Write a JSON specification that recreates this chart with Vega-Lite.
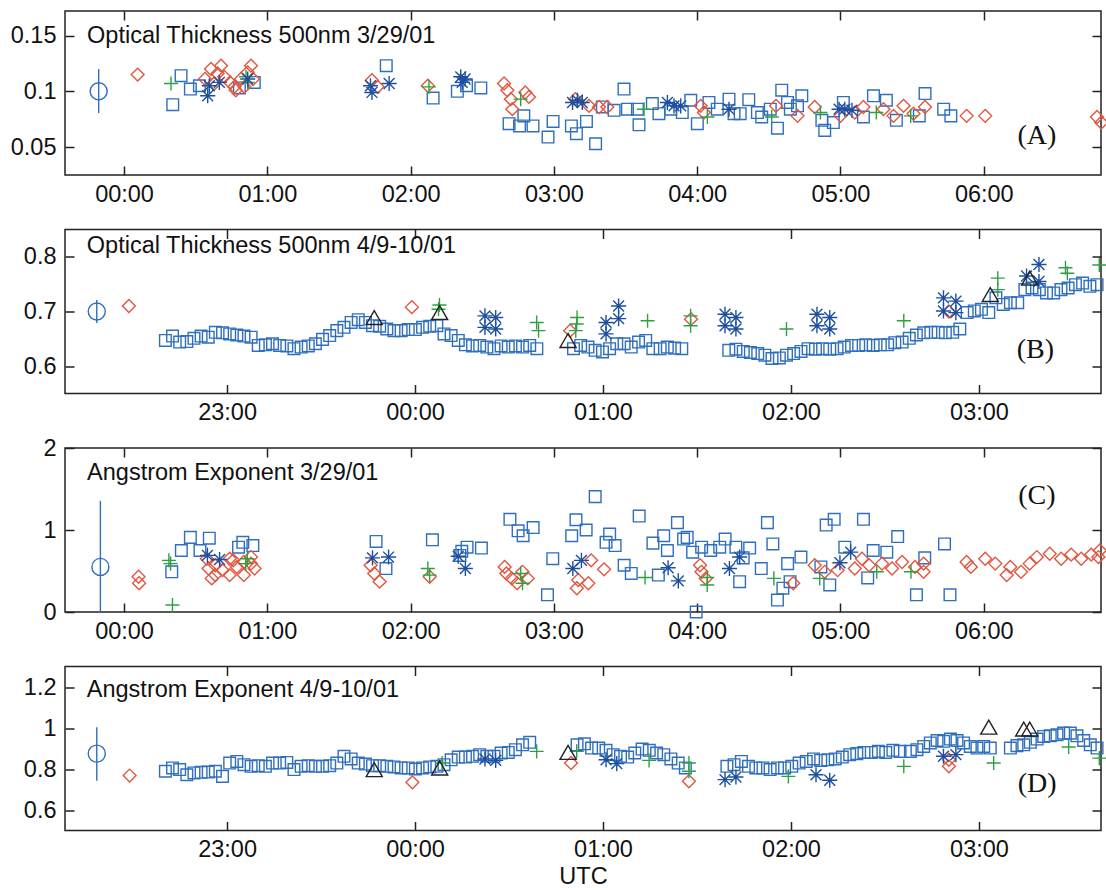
{
"$schema":"https://vega.github.io/schema/vega-lite/v6.json",
"padding":{"left":9,"top":9,"right":6,"bottom":0},
"background":"white",
"config":{
 "view":{"stroke":"#222","strokeWidth":1.5},
 "font":"Liberation Sans",
 "axis":{"domain":false,"grid":false,"tickColor":"#222","tickSize":-9,"tickWidth":1.5,"labelFontSize":23.5,"labelColor":"#111","labelFont":"Liberation Sans","titleFont":"Liberation Sans","titleFontSize":23.5,"titleFontWeight":"normal","titleColor":"#111"},
 "axisX":{"labelPadding":16,"titlePadding":3},
 "axisY":{"labelPadding":18}
},
"datasets":{
"A":[
{"t":0.340,"v":0.088,"s":"sq"},{"t":0.398,"v":0.114,"s":"sq"},{"t":0.463,"v":0.102,"s":"sq"},{"t":0.526,"v":0.105,"s":"sq"},{"t":0.805,"v":0.103,"s":"sq"},{"t":0.909,"v":0.108,"s":"sq"},{"t":1.83,"v":0.123,"s":"sq"},{"t":2.157,"v":0.094,"s":"sq"},{"t":2.326,"v":0.100,"s":"sq"},{"t":2.39,"v":0.105,"s":"sq"},{"t":2.49,"v":0.103,"s":"sq"},{"t":2.687,"v":0.071,"s":"sq"},{"t":2.76,"v":0.069,"s":"sq"},{"t":2.79,"v":0.078,"s":"sq"},{"t":2.854,"v":0.069,"s":"sq"},{"t":2.959,"v":0.059,"s":"sq"},{"t":2.994,"v":0.073,"s":"sq"},{"t":3.122,"v":0.069,"s":"sq"},{"t":3.157,"v":0.062,"s":"sq"},{"t":3.227,"v":0.073,"s":"sq"},{"t":3.291,"v":0.053,"s":"sq"},{"t":3.489,"v":0.102,"s":"sq"},{"t":3.338,"v":0.086,"s":"sq"},{"t":3.42,"v":0.083,"s":"sq"},{"t":3.513,"v":0.084,"s":"sq"},{"t":3.583,"v":0.084,"s":"sq"},{"t":3.594,"v":0.070,"s":"sq"},{"t":3.687,"v":0.089,"s":"sq"},{"t":3.733,"v":0.080,"s":"sq"},{"t":3.815,"v":0.084,"s":"sq"},{"t":3.896,"v":0.081,"s":"sq"},{"t":3.955,"v":0.092,"s":"sq"},{"t":4.001,"v":0.071,"s":"sq"},{"t":4.082,"v":0.090,"s":"sq"},{"t":4.14,"v":0.084,"s":"sq"},{"t":4.222,"v":0.093,"s":"sq"},{"t":4.257,"v":0.080,"s":"sq"},{"t":4.30,"v":0.080,"s":"sq"},{"t":4.36,"v":0.0925,"s":"sq"},{"t":4.42,"v":0.081,"s":"sq"},{"t":4.45,"v":0.077,"s":"sq"},{"t":4.51,"v":0.084,"s":"sq"},{"t":4.56,"v":0.067,"s":"sq"},{"t":4.59,"v":0.101,"s":"sq"},{"t":4.63,"v":0.090,"s":"sq"},{"t":4.65,"v":0.084,"s":"sq"},{"t":4.70,"v":0.087,"s":"sq"},{"t":4.73,"v":0.096,"s":"sq"},{"t":4.87,"v":0.074,"s":"sq"},{"t":4.89,"v":0.065,"s":"sq"},{"t":4.95,"v":0.072,"s":"sq"},{"t":5.02,"v":0.090,"s":"sq"},{"t":5.16,"v":0.077,"s":"sq"},{"t":5.23,"v":0.096,"s":"sq"},{"t":5.32,"v":0.092,"s":"sq"},{"t":5.39,"v":0.074,"s":"sq"},{"t":5.55,"v":0.078,"s":"sq"},{"t":5.59,"v":0.098,"s":"sq"},{"t":5.72,"v":0.084,"s":"sq"},{"t":5.77,"v":0.078,"s":"sq"},
{"t":0.095,"v":0.115,"s":"dm"},{"t":0.565,"v":0.111,"s":"dm"},{"t":0.607,"v":0.120,"s":"dm"},{"t":0.653,"v":0.116,"s":"dm"},{"t":0.677,"v":0.123,"s":"dm"},{"t":0.63,"v":0.107,"s":"dm"},{"t":0.70,"v":0.113,"s":"dm"},{"t":0.74,"v":0.108,"s":"dm"},{"t":0.77,"v":0.104,"s":"dm"},{"t":0.78,"v":0.101,"s":"dm"},{"t":0.816,"v":0.111,"s":"dm"},{"t":0.863,"v":0.117,"s":"dm"},{"t":0.886,"v":0.123,"s":"dm"},{"t":0.90,"v":0.111,"s":"dm"},{"t":0.84,"v":0.104,"s":"dm"},{"t":1.73,"v":0.110,"s":"dm"},{"t":1.77,"v":0.104,"s":"dm"},{"t":2.12,"v":0.105,"s":"dm"},{"t":2.652,"v":0.107,"s":"dm"},{"t":2.675,"v":0.101,"s":"dm"},{"t":2.70,"v":0.093,"s":"dm"},{"t":2.71,"v":0.084,"s":"dm"},{"t":2.80,"v":0.099,"s":"dm"},{"t":2.826,"v":0.095,"s":"dm"},{"t":3.15,"v":0.093,"s":"dm"},{"t":3.245,"v":0.087,"s":"dm"},{"t":3.315,"v":0.086,"s":"dm"},{"t":3.373,"v":0.086,"s":"dm"},{"t":4.024,"v":0.087,"s":"dm"},{"t":4.047,"v":0.081,"s":"dm"},{"t":4.55,"v":0.087,"s":"dm"},{"t":4.70,"v":0.078,"s":"dm"},{"t":4.82,"v":0.086,"s":"dm"},{"t":5.00,"v":0.078,"s":"dm"},{"t":5.10,"v":0.081,"s":"dm"},{"t":5.16,"v":0.086,"s":"dm"},{"t":5.30,"v":0.084,"s":"dm"},{"t":5.37,"v":0.078,"s":"dm"},{"t":5.44,"v":0.087,"s":"dm"},{"t":5.51,"v":0.080,"s":"dm"},{"t":5.59,"v":0.086,"s":"dm"},{"t":5.88,"v":0.078,"s":"dm"},{"t":6.01,"v":0.078,"s":"dm"},{"t":6.79,"v":0.077,"s":"dm"},{"t":6.82,"v":0.072,"s":"dm"},
{"t":0.328,"v":0.107,"s":"pl"},{"t":0.851,"v":0.113,"s":"pl"},{"t":0.863,"v":0.108,"s":"pl"},{"t":2.128,"v":0.104,"s":"pl"},{"t":2.768,"v":0.093,"s":"pl"},{"t":3.629,"v":0.084,"s":"pl"},{"t":4.071,"v":0.077,"s":"pl"},{"t":4.52,"v":0.077,"s":"pl"},{"t":4.86,"v":0.081,"s":"pl"},{"t":5.25,"v":0.081,"s":"pl"},{"t":5.49,"v":0.078,"s":"pl"},
{"t":0.584,"v":0.096,"s":"as"},{"t":0.595,"v":0.105,"s":"as"},{"t":0.665,"v":0.108,"s":"as"},{"t":0.863,"v":0.111,"s":"as"},{"t":1.72,"v":0.105,"s":"as"},{"t":1.73,"v":0.099,"s":"as"},{"t":1.85,"v":0.107,"s":"as"},{"t":2.35,"v":0.113,"s":"as"},{"t":2.36,"v":0.108,"s":"as"},{"t":2.38,"v":0.111,"s":"as"},{"t":3.13,"v":0.090,"s":"as"},{"t":3.164,"v":0.092,"s":"as"},{"t":3.198,"v":0.090,"s":"as"},{"t":3.792,"v":0.090,"s":"as"},{"t":3.838,"v":0.087,"s":"as"},{"t":3.885,"v":0.087,"s":"as"},{"t":4.222,"v":0.084,"s":"as"},{"t":4.99,"v":0.084,"s":"as"},{"t":5.03,"v":0.084,"s":"as"},{"t":5.08,"v":0.083,"s":"as"},
{"t":-0.177,"v":0.1,"lo":0.0805,"hi":0.12,"s":"err"}
],
"B":[
{"t":-1.328,"v":0.647,"s":"sq"},{"t":-1.290,"v":0.655,"s":"sq"},{"t":-1.252,"v":0.644,"s":"sq"},{"t":-1.214,"v":0.645,"s":"sq"},{"t":-1.176,"v":0.651,"s":"sq"},{"t":-1.138,"v":0.655,"s":"sq"},{"t":-1.100,"v":0.653,"s":"sq"},{"t":-1.062,"v":0.662,"s":"sq"},{"t":-1.024,"v":0.661,"s":"sq"},{"t":-0.986,"v":0.659,"s":"sq"},{"t":-0.948,"v":0.657,"s":"sq"},{"t":-0.910,"v":0.655,"s":"sq"},{"t":-0.872,"v":0.653,"s":"sq"},{"t":-0.834,"v":0.638,"s":"sq"},{"t":-0.796,"v":0.639,"s":"sq"},{"t":-0.758,"v":0.641,"s":"sq"},{"t":-0.720,"v":0.638,"s":"sq"},{"t":-0.682,"v":0.637,"s":"sq"},{"t":-0.644,"v":0.632,"s":"sq"},{"t":-0.606,"v":0.635,"s":"sq"},{"t":-0.568,"v":0.637,"s":"sq"},{"t":-0.530,"v":0.641,"s":"sq"},{"t":-0.492,"v":0.649,"s":"sq"},{"t":-0.454,"v":0.656,"s":"sq"},{"t":-0.416,"v":0.665,"s":"sq"},{"t":-0.378,"v":0.671,"s":"sq"},{"t":-0.340,"v":0.680,"s":"sq"},{"t":-0.302,"v":0.685,"s":"sq"},{"t":-0.264,"v":0.680,"s":"sq"},{"t":-0.226,"v":0.674,"s":"sq"},{"t":-0.188,"v":0.673,"s":"sq"},{"t":-0.150,"v":0.668,"s":"sq"},{"t":-0.112,"v":0.665,"s":"sq"},{"t":-0.074,"v":0.665,"s":"sq"},{"t":-0.036,"v":0.667,"s":"sq"},{"t":0.002,"v":0.667,"s":"sq"},{"t":0.040,"v":0.671,"s":"sq"},{"t":0.078,"v":0.673,"s":"sq"},{"t":0.116,"v":0.674,"s":"sq"},{"t":0.154,"v":0.659,"s":"sq"},{"t":0.192,"v":0.656,"s":"sq"},{"t":0.230,"v":0.647,"s":"sq"},{"t":0.268,"v":0.639,"s":"sq"},{"t":0.306,"v":0.637,"s":"sq"},{"t":0.344,"v":0.638,"s":"sq"},{"t":0.382,"v":0.635,"s":"sq"},{"t":0.420,"v":0.632,"s":"sq"},{"t":0.458,"v":0.637,"s":"sq"},{"t":0.496,"v":0.635,"s":"sq"},{"t":0.534,"v":0.637,"s":"sq"},{"t":0.572,"v":0.635,"s":"sq"},{"t":0.610,"v":0.638,"s":"sq"},{"t":0.648,"v":0.632,"s":"sq"},
{"t":0.843,"v":0.632,"s":"sq"},{"t":0.881,"v":0.638,"s":"sq"},{"t":0.920,"v":0.635,"s":"sq"},{"t":0.958,"v":0.629,"s":"sq"},{"t":0.997,"v":0.626,"s":"sq"},{"t":1.035,"v":0.632,"s":"sq"},{"t":1.073,"v":0.641,"s":"sq"},{"t":1.112,"v":0.641,"s":"sq"},{"t":1.150,"v":0.635,"s":"sq"},{"t":1.189,"v":0.644,"s":"sq"},{"t":1.227,"v":0.647,"s":"sq"},{"t":1.265,"v":0.632,"s":"sq"},{"t":1.304,"v":0.632,"s":"sq"},{"t":1.342,"v":0.635,"s":"sq"},{"t":1.381,"v":0.633,"s":"sq"},{"t":1.419,"v":0.632,"s":"sq"},
{"t":1.669,"v":0.629,"s":"sq"},{"t":1.707,"v":0.631,"s":"sq"},{"t":1.746,"v":0.627,"s":"sq"},{"t":1.784,"v":0.625,"s":"sq"},{"t":1.823,"v":0.623,"s":"sq"},{"t":1.861,"v":0.620,"s":"sq"},{"t":1.899,"v":0.614,"s":"sq"},{"t":1.938,"v":0.615,"s":"sq"},{"t":1.976,"v":0.620,"s":"sq"},{"t":2.014,"v":0.623,"s":"sq"},{"t":2.053,"v":0.627,"s":"sq"},{"t":2.091,"v":0.632,"s":"sq"},{"t":2.130,"v":0.631,"s":"sq"},{"t":2.168,"v":0.632,"s":"sq"},{"t":2.206,"v":0.631,"s":"sq"},{"t":2.245,"v":0.632,"s":"sq"},{"t":2.283,"v":0.635,"s":"sq"},{"t":2.322,"v":0.638,"s":"sq"},{"t":2.360,"v":0.638,"s":"sq"},{"t":2.398,"v":0.639,"s":"sq"},{"t":2.437,"v":0.638,"s":"sq"},{"t":2.475,"v":0.639,"s":"sq"},{"t":2.514,"v":0.639,"s":"sq"},{"t":2.552,"v":0.643,"s":"sq"},{"t":2.591,"v":0.644,"s":"sq"},{"t":2.629,"v":0.651,"s":"sq"},{"t":2.667,"v":0.657,"s":"sq"},{"t":2.706,"v":0.661,"s":"sq"},{"t":2.744,"v":0.662,"s":"sq"},{"t":2.783,"v":0.662,"s":"sq"},{"t":2.821,"v":0.661,"s":"sq"},{"t":2.860,"v":0.662,"s":"sq"},{"t":2.898,"v":0.668,"s":"sq"},{"t":2.937,"v":0.698,"s":"sq"},{"t":2.975,"v":0.701,"s":"sq"},{"t":3.013,"v":0.704,"s":"sq"},{"t":3.052,"v":0.698,"s":"sq"},{"t":3.090,"v":0.725,"s":"sq"},{"t":3.129,"v":0.713,"s":"sq"},{"t":3.167,"v":0.716,"s":"sq"},{"t":3.206,"v":0.716,"s":"sq"},{"t":3.244,"v":0.740,"s":"sq"},{"t":3.282,"v":0.743,"s":"sq"},{"t":3.321,"v":0.740,"s":"sq"},{"t":3.359,"v":0.734,"s":"sq"},{"t":3.397,"v":0.734,"s":"sq"},{"t":3.436,"v":0.740,"s":"sq"},{"t":3.474,"v":0.743,"s":"sq"},{"t":3.513,"v":0.749,"s":"sq"},{"t":3.551,"v":0.752,"s":"sq"},{"t":3.590,"v":0.746,"s":"sq"},{"t":3.628,"v":0.749,"s":"sq"},
{"t":-1.522,"v":0.710,"s":"dm"},{"t":-0.017,"v":0.708,"s":"dm"},{"t":0.825,"v":0.665,"s":"dm"},{"t":1.468,"v":0.686,"s":"dm"},{"t":2.84,"v":0.700,"s":"dm"},
{"t":0.125,"v":0.704,"s":"pl"},{"t":0.13,"v":0.712,"s":"pl"},{"t":0.647,"v":0.680,"s":"pl"},{"t":0.657,"v":0.665,"s":"pl"},{"t":0.862,"v":0.689,"s":"pl"},{"t":0.86,"v":0.677,"s":"pl"},{"t":0.855,"v":0.665,"s":"pl"},{"t":1.237,"v":0.683,"s":"pl"},{"t":1.466,"v":0.692,"s":"pl"},{"t":1.466,"v":0.674,"s":"pl"},{"t":1.976,"v":0.668,"s":"pl"},{"t":2.60,"v":0.683,"s":"pl"},{"t":3.10,"v":0.761,"s":"pl"},{"t":3.10,"v":0.740,"s":"pl"},{"t":3.46,"v":0.780,"s":"pl"},{"t":3.47,"v":0.770,"s":"pl"},{"t":3.64,"v":0.785,"s":"pl"},
{"t":0.372,"v":0.692,"s":"as"},{"t":0.372,"v":0.671,"s":"as"},{"t":0.429,"v":0.689,"s":"as"},{"t":0.429,"v":0.668,"s":"as"},{"t":1.016,"v":0.680,"s":"as"},{"t":1.016,"v":0.659,"s":"as"},{"t":1.083,"v":0.710,"s":"as"},{"t":1.083,"v":0.687,"s":"as"},{"t":1.649,"v":0.695,"s":"as"},{"t":1.707,"v":0.689,"s":"as"},{"t":1.649,"v":0.674,"s":"as"},{"t":1.707,"v":0.668,"s":"as"},{"t":2.138,"v":0.695,"s":"as"},{"t":2.206,"v":0.689,"s":"as"},{"t":2.138,"v":0.674,"s":"as"},{"t":2.206,"v":0.668,"s":"as"},{"t":2.811,"v":0.725,"s":"as"},{"t":2.877,"v":0.719,"s":"as"},{"t":2.811,"v":0.701,"s":"as"},{"t":2.877,"v":0.698,"s":"as"},{"t":3.253,"v":0.765,"s":"as"},{"t":3.319,"v":0.786,"s":"as"},{"t":3.319,"v":0.755,"s":"as"},
{"t":-0.217,"v":0.689,"s":"tr"},{"t":0.131,"v":0.698,"s":"tr"},{"t":0.814,"v":0.647,"s":"tr"},{"t":3.06,"v":0.731,"s":"tr"},{"t":3.27,"v":0.761,"s":"tr"},
{"t":-1.693,"v":0.7,"lo":0.679,"hi":0.721,"s":"err"}
],
"C":[
{"t":0.333,"v":0.49,"s":"sq"},{"t":0.40,"v":0.75,"s":"sq"},{"t":0.463,"v":0.91,"s":"sq"},{"t":0.530,"v":0.75,"s":"sq"},{"t":0.595,"v":0.90,"s":"sq"},{"t":0.799,"v":0.79,"s":"sq"},{"t":0.829,"v":0.85,"s":"sq"},{"t":0.899,"v":0.81,"s":"sq"},{"t":1.759,"v":0.86,"s":"sq"},{"t":1.828,"v":0.53,"s":"sq"},{"t":2.152,"v":0.88,"s":"sq"},{"t":2.344,"v":0.69,"s":"sq"},{"t":2.357,"v":0.74,"s":"sq"},{"t":2.394,"v":0.79,"s":"sq"},{"t":2.494,"v":0.78,"s":"sq"},{"t":2.693,"v":1.13,"s":"sq"},{"t":2.75,"v":0.99,"s":"sq"},{"t":2.785,"v":0.93,"s":"sq"},{"t":2.855,"v":1.03,"s":"sq"},{"t":2.992,"v":0.65,"s":"sq"},{"t":2.955,"v":0.21,"s":"sq"},{"t":3.124,"v":0.93,"s":"sq"},{"t":3.154,"v":1.125,"s":"sq"},{"t":3.225,"v":1.0,"s":"sq"},{"t":3.288,"v":1.407,"s":"sq"},{"t":3.364,"v":0.85,"s":"sq"},{"t":3.389,"v":0.95,"s":"sq"},{"t":3.427,"v":0.81,"s":"sq"},{"t":3.49,"v":0.57,"s":"sq"},{"t":3.54,"v":0.47,"s":"sq"},{"t":3.595,"v":1.17,"s":"sq"},{"t":3.691,"v":0.84,"s":"sq"},{"t":3.729,"v":0.45,"s":"sq"},{"t":3.766,"v":0.93,"s":"sq"},{"t":3.792,"v":0.75,"s":"sq"},{"t":3.862,"v":1.09,"s":"sq"},{"t":3.905,"v":0.89,"s":"sq"},{"t":3.93,"v":0.91,"s":"sq"},{"t":3.968,"v":0.73,"s":"sq"},{"t":3.993,"v":0.0,"s":"sq"},{"t":4.031,"v":0.79,"s":"sq"},{"t":4.094,"v":0.75,"s":"sq"},{"t":4.157,"v":0.79,"s":"sq"},{"t":4.195,"v":0.89,"s":"sq"},{"t":4.27,"v":0.79,"s":"sq"},{"t":4.296,"v":0.37,"s":"sq"},{"t":4.321,"v":0.66,"s":"sq"},{"t":4.366,"v":0.78,"s":"sq"},{"t":4.447,"v":0.53,"s":"sq"},{"t":4.49,"v":1.09,"s":"sq"},{"t":4.528,"v":0.83,"s":"sq"},{"t":4.56,"v":0.145,"s":"sq"},{"t":4.598,"v":0.29,"s":"sq"},{"t":4.631,"v":0.59,"s":"sq"},{"t":4.648,"v":0.37,"s":"sq"},{"t":4.724,"v":0.67,"s":"sq"},{"t":4.863,"v":0.55,"s":"sq"},{"t":4.9,"v":1.06,"s":"sq"},{"t":4.925,"v":0.33,"s":"sq"},{"t":4.956,"v":1.13,"s":"sq"},{"t":5.03,"v":0.79,"s":"sq"},{"t":5.16,"v":1.13,"s":"sq"},{"t":5.19,"v":0.415,"s":"sq"},{"t":5.228,"v":0.75,"s":"sq"},{"t":5.323,"v":0.73,"s":"sq"},{"t":5.399,"v":0.92,"s":"sq"},{"t":5.53,"v":0.21,"s":"sq"},{"t":5.588,"v":0.66,"s":"sq"},{"t":5.726,"v":0.83,"s":"sq"},{"t":5.764,"v":0.21,"s":"sq"},
{"t":0.101,"v":0.43,"s":"dm"},{"t":0.105,"v":0.35,"s":"dm"},{"t":0.578,"v":0.65,"s":"dm"},{"t":0.59,"v":0.53,"s":"dm"},{"t":0.637,"v":0.57,"s":"dm"},{"t":0.637,"v":0.45,"s":"dm"},{"t":0.687,"v":0.51,"s":"dm"},{"t":0.737,"v":0.65,"s":"dm"},{"t":0.737,"v":0.45,"s":"dm"},{"t":0.787,"v":0.55,"s":"dm"},{"t":0.836,"v":0.61,"s":"dm"},{"t":0.836,"v":0.45,"s":"dm"},{"t":0.886,"v":0.59,"s":"dm"},{"t":0.911,"v":0.53,"s":"dm"},{"t":0.886,"v":0.67,"s":"dm"},{"t":0.612,"v":0.41,"s":"dm"},{"t":0.762,"v":0.63,"s":"dm"},{"t":1.721,"v":0.57,"s":"dm"},{"t":1.746,"v":0.47,"s":"dm"},{"t":1.784,"v":0.37,"s":"dm"},{"t":2.133,"v":0.43,"s":"dm"},{"t":2.656,"v":0.55,"s":"dm"},{"t":2.668,"v":0.47,"s":"dm"},{"t":2.706,"v":0.41,"s":"dm"},{"t":2.781,"v":0.49,"s":"dm"},{"t":2.817,"v":0.41,"s":"dm"},{"t":2.743,"v":0.35,"s":"dm"},{"t":3.16,"v":0.29,"s":"dm"},{"t":3.17,"v":0.39,"s":"dm"},{"t":3.24,"v":0.35,"s":"dm"},{"t":3.26,"v":0.63,"s":"dm"},{"t":3.35,"v":0.52,"s":"dm"},{"t":4.02,"v":0.57,"s":"dm"},{"t":4.03,"v":0.49,"s":"dm"},{"t":4.06,"v":0.41,"s":"dm"},{"t":4.67,"v":0.35,"s":"dm"},{"t":4.82,"v":0.57,"s":"dm"},{"t":4.89,"v":0.49,"s":"dm"},{"t":4.98,"v":0.51,"s":"dm"},{"t":5.10,"v":0.53,"s":"dm"},{"t":5.15,"v":0.65,"s":"dm"},{"t":5.20,"v":0.57,"s":"dm"},{"t":5.29,"v":0.59,"s":"dm"},{"t":5.36,"v":0.53,"s":"dm"},{"t":5.43,"v":0.61,"s":"dm"},{"t":5.52,"v":0.55,"s":"dm"},{"t":5.58,"v":0.59,"s":"dm"},{"t":5.58,"v":0.49,"s":"dm"},{"t":5.88,"v":0.61,"s":"dm"},{"t":5.91,"v":0.55,"s":"dm"},{"t":6.01,"v":0.65,"s":"dm"},{"t":6.08,"v":0.59,"s":"dm"},{"t":6.16,"v":0.45,"s":"dm"},{"t":6.185,"v":0.55,"s":"dm"},{"t":6.26,"v":0.49,"s":"dm"},{"t":6.32,"v":0.59,"s":"dm"},{"t":6.37,"v":0.67,"s":"dm"},{"t":6.46,"v":0.71,"s":"dm"},{"t":6.54,"v":0.65,"s":"dm"},{"t":6.61,"v":0.70,"s":"dm"},{"t":6.68,"v":0.65,"s":"dm"},{"t":6.75,"v":0.70,"s":"dm"},{"t":6.81,"v":0.75,"s":"dm"},{"t":6.80,"v":0.67,"s":"dm"},
{"t":0.313,"v":0.63,"s":"pl"},{"t":0.325,"v":0.59,"s":"pl"},{"t":0.338,"v":0.085,"s":"pl"},{"t":0.849,"v":0.59,"s":"pl"},{"t":0.861,"v":0.65,"s":"pl"},{"t":2.12,"v":0.53,"s":"pl"},{"t":2.133,"v":0.45,"s":"pl"},{"t":2.768,"v":0.47,"s":"pl"},{"t":2.781,"v":0.35,"s":"pl"},{"t":3.636,"v":0.42,"s":"pl"},{"t":4.07,"v":0.42,"s":"pl"},{"t":4.07,"v":0.33,"s":"pl"},{"t":4.535,"v":0.41,"s":"pl"},{"t":4.855,"v":0.41,"s":"pl"},{"t":5.253,"v":0.49,"s":"pl"},{"t":5.492,"v":0.49,"s":"pl"},
{"t":0.582,"v":0.69,"s":"as"},{"t":0.667,"v":0.64,"s":"as"},{"t":1.734,"v":0.66,"s":"as"},{"t":1.846,"v":0.67,"s":"as"},{"t":2.332,"v":0.68,"s":"as"},{"t":2.382,"v":0.53,"s":"as"},{"t":3.132,"v":0.53,"s":"as"},{"t":3.192,"v":0.63,"s":"as"},{"t":3.797,"v":0.54,"s":"as"},{"t":3.868,"v":0.38,"s":"as"},{"t":4.225,"v":0.53,"s":"as"},{"t":4.296,"v":0.67,"s":"as"},{"t":4.996,"v":0.60,"s":"as"},{"t":5.071,"v":0.73,"s":"as"},
{"t":-0.165,"v":0.55,"lo":0,"hi":1.355,"s":"err"}
],
"D":[
{"t":-1.328,"v":0.789,"s":"sq"},{"t":-1.290,"v":0.805,"s":"sq"},{"t":-1.252,"v":0.797,"s":"sq"},{"t":-1.214,"v":0.772,"s":"sq"},{"t":-1.176,"v":0.781,"s":"sq"},{"t":-1.138,"v":0.784,"s":"sq"},{"t":-1.100,"v":0.785,"s":"sq"},{"t":-1.062,"v":0.789,"s":"sq"},{"t":-1.024,"v":0.764,"s":"sq"},{"t":-0.986,"v":0.829,"s":"sq"},{"t":-0.948,"v":0.837,"s":"sq"},{"t":-0.910,"v":0.821,"s":"sq"},{"t":-0.872,"v":0.813,"s":"sq"},{"t":-0.834,"v":0.816,"s":"sq"},{"t":-0.796,"v":0.813,"s":"sq"},{"t":-0.758,"v":0.829,"s":"sq"},{"t":-0.720,"v":0.829,"s":"sq"},{"t":-0.682,"v":0.832,"s":"sq"},{"t":-0.644,"v":0.797,"s":"sq"},{"t":-0.606,"v":0.813,"s":"sq"},{"t":-0.568,"v":0.816,"s":"sq"},{"t":-0.530,"v":0.813,"s":"sq"},{"t":-0.492,"v":0.813,"s":"sq"},{"t":-0.454,"v":0.816,"s":"sq"},{"t":-0.416,"v":0.829,"s":"sq"},{"t":-0.378,"v":0.862,"s":"sq"},{"t":-0.340,"v":0.849,"s":"sq"},{"t":-0.302,"v":0.829,"s":"sq"},{"t":-0.264,"v":0.824,"s":"sq"},{"t":-0.226,"v":0.816,"s":"sq"},{"t":-0.188,"v":0.816,"s":"sq"},{"t":-0.150,"v":0.813,"s":"sq"},{"t":-0.112,"v":0.810,"s":"sq"},{"t":-0.074,"v":0.805,"s":"sq"},{"t":-0.036,"v":0.805,"s":"sq"},{"t":0.002,"v":0.800,"s":"sq"},{"t":0.040,"v":0.805,"s":"sq"},{"t":0.078,"v":0.810,"s":"sq"},{"t":0.116,"v":0.813,"s":"sq"},{"t":0.154,"v":0.821,"s":"sq"},{"t":0.192,"v":0.845,"s":"sq"},{"t":0.230,"v":0.858,"s":"sq"},{"t":0.268,"v":0.858,"s":"sq"},{"t":0.306,"v":0.862,"s":"sq"},{"t":0.344,"v":0.870,"s":"sq"},{"t":0.382,"v":0.862,"s":"sq"},{"t":0.420,"v":0.862,"s":"sq"},{"t":0.458,"v":0.878,"s":"sq"},{"t":0.496,"v":0.881,"s":"sq"},{"t":0.534,"v":0.894,"s":"sq"},{"t":0.572,"v":0.918,"s":"sq"},{"t":0.610,"v":0.930,"s":"sq"},
{"t":0.862,"v":0.918,"s":"sq"},{"t":0.901,"v":0.923,"s":"sq"},{"t":0.939,"v":0.902,"s":"sq"},{"t":0.977,"v":0.902,"s":"sq"},{"t":1.016,"v":0.891,"s":"sq"},{"t":1.054,"v":0.870,"s":"sq"},{"t":1.093,"v":0.862,"s":"sq"},{"t":1.131,"v":0.858,"s":"sq"},{"t":1.169,"v":0.878,"s":"sq"},{"t":1.208,"v":0.897,"s":"sq"},{"t":1.246,"v":0.891,"s":"sq"},{"t":1.285,"v":0.878,"s":"sq"},{"t":1.323,"v":0.870,"s":"sq"},{"t":1.361,"v":0.849,"s":"sq"},{"t":1.400,"v":0.829,"s":"sq"},{"t":1.438,"v":0.805,"s":"sq"},
{"t":1.659,"v":0.813,"s":"sq"},{"t":1.697,"v":0.821,"s":"sq"},{"t":1.736,"v":0.837,"s":"sq"},{"t":1.774,"v":0.813,"s":"sq"},{"t":1.813,"v":0.805,"s":"sq"},{"t":1.851,"v":0.805,"s":"sq"},{"t":1.889,"v":0.797,"s":"sq"},{"t":1.928,"v":0.805,"s":"sq"},{"t":1.966,"v":0.805,"s":"sq"},{"t":2.004,"v":0.813,"s":"sq"},{"t":2.043,"v":0.829,"s":"sq"},{"t":2.081,"v":0.837,"s":"sq"},{"t":2.120,"v":0.849,"s":"sq"},{"t":2.158,"v":0.842,"s":"sq"},{"t":2.196,"v":0.845,"s":"sq"},{"t":2.235,"v":0.849,"s":"sq"},{"t":2.273,"v":0.858,"s":"sq"},{"t":2.312,"v":0.870,"s":"sq"},{"t":2.350,"v":0.875,"s":"sq"},{"t":2.388,"v":0.881,"s":"sq"},{"t":2.427,"v":0.881,"s":"sq"},{"t":2.465,"v":0.886,"s":"sq"},{"t":2.504,"v":0.881,"s":"sq"},{"t":2.542,"v":0.891,"s":"sq"},{"t":2.580,"v":0.886,"s":"sq"},{"t":2.635,"v":0.886,"s":"sq"},{"t":2.670,"v":0.894,"s":"sq"},{"t":2.706,"v":0.910,"s":"sq"},{"t":2.741,"v":0.927,"s":"sq"},{"t":2.777,"v":0.939,"s":"sq"},{"t":2.812,"v":0.935,"s":"sq"},{"t":2.848,"v":0.946,"s":"sq"},{"t":2.883,"v":0.939,"s":"sq"},{"t":2.918,"v":0.927,"s":"sq"},{"t":2.954,"v":0.910,"s":"sq"},{"t":2.989,"v":0.902,"s":"sq"},{"t":3.025,"v":0.910,"s":"sq"},{"t":3.060,"v":0.902,"s":"sq"},{"t":3.167,"v":0.902,"s":"sq"},{"t":3.202,"v":0.914,"s":"sq"},{"t":3.238,"v":0.918,"s":"sq"},{"t":3.273,"v":0.930,"s":"sq"},{"t":3.309,"v":0.946,"s":"sq"},{"t":3.344,"v":0.959,"s":"sq"},{"t":3.379,"v":0.962,"s":"sq"},{"t":3.415,"v":0.967,"s":"sq"},{"t":3.450,"v":0.975,"s":"sq"},{"t":3.486,"v":0.975,"s":"sq"},{"t":3.521,"v":0.962,"s":"sq"},{"t":3.557,"v":0.939,"s":"sq"},{"t":3.592,"v":0.918,"s":"sq"},{"t":3.628,"v":0.902,"s":"sq"},
{"t":-1.518,"v":0.768,"s":"dm"},{"t":-0.014,"v":0.735,"s":"dm"},{"t":0.83,"v":0.829,"s":"dm"},{"t":1.457,"v":0.740,"s":"dm"},{"t":2.84,"v":0.845,"s":"dm"},{"t":2.84,"v":0.813,"s":"dm"},
{"t":0.144,"v":0.829,"s":"pl"},{"t":0.647,"v":0.886,"s":"pl"},{"t":0.86,"v":0.886,"s":"pl"},{"t":1.245,"v":0.842,"s":"pl"},{"t":1.457,"v":0.829,"s":"pl"},{"t":1.457,"v":0.789,"s":"pl"},{"t":1.986,"v":0.764,"s":"pl"},{"t":2.60,"v":0.813,"s":"pl"},{"t":3.078,"v":0.829,"s":"pl"},{"t":3.477,"v":0.907,"s":"pl"},{"t":3.64,"v":0.853,"s":"pl"},
{"t":0.372,"v":0.849,"s":"as"},{"t":0.429,"v":0.842,"s":"as"},{"t":1.016,"v":0.845,"s":"as"},{"t":1.073,"v":0.826,"s":"as"},{"t":1.649,"v":0.748,"s":"as"},{"t":1.707,"v":0.761,"s":"as"},{"t":2.133,"v":0.772,"s":"as"},{"t":2.206,"v":0.745,"s":"as"},{"t":2.811,"v":0.862,"s":"as"},{"t":2.877,"v":0.870,"s":"as"},
{"t":-0.217,"v":0.797,"s":"tr"},{"t":0.131,"v":0.805,"s":"tr"},{"t":0.814,"v":0.881,"s":"tr"},{"t":3.052,"v":1.004,"s":"tr"},{"t":3.238,"v":0.995,"s":"tr"},{"t":3.27,"v":0.995,"s":"tr"},
{"t":-1.693,"v":0.875,"lo":0.743,"hi":1.004,"s":"err"}
]
},
"spacing":54.5,
"bounds":"flush",
"vconcat":[
{"width":1036,"height":164,"data":{"name":"A"},
 "resolve":{"axis":{"x":"independent","y":"independent"}},
 "layer":[
  {"transform":[{"filter":"datum.s==='err'"}],"mark":{"type":"rule","color":"#2f6fbd","strokeWidth":1.4},
   "encoding":{"x":{"field":"t","type":"quantitative","scale":{"domain":[-0.412,6.818],"nice":false,"zero":false},"axis":{"orient":"top","labels":false,"values":[0,1,2,3,4,5,6],"title":null,"minExtent":0,"maxExtent":0}},
    "y":{"field":"lo","type":"quantitative","scale":{"domain":[0.025,0.172],"nice":false,"zero":false},"axis":{"orient":"right","labels":false,"values":[0.05,0.1,0.15],"title":null,"minExtent":0,"maxExtent":0}},
    "y2":{"field":"hi"}}},
  {"mark":{"type":"point","filled":false,"strokeWidth":1.4,"opacity":1},
   "encoding":{"x":{"field":"t","type":"quantitative","axis":{"orient":"bottom","values":[0,1,2,3,4,5,6],"labelExpr":"(datum.value < 0 ? datum.value + 24 : '0' + datum.value) + ':00'","title":null}},
    "y":{"field":"v","type":"quantitative","axis":{"orient":"left","values":[0.05,0.1,0.15],"format":"~g","title":null}},
    "shape":{"field":"s","type":"nominal","legend":null,"scale":{"domain":["sq","dm","pl","as","tr","err"],"range":["square","diamond","M-1,0L1,0M0,-1L0,1","M-1,0L1,0M0,-1L0,1M-0.72,-0.72L0.72,0.72M-0.72,0.72L0.72,-0.72","triangle-up","circle"]}},
    "color":{"field":"s","type":"nominal","legend":null,"scale":{"domain":["sq","dm","pl","as","tr","err"],"range":["#2f6fbd","#e2563f","#2ea043","#1e4f9f","#222222","#2f6fbd"]}},
    "size":{"field":"s","type":"nominal","legend":null,"scale":{"domain":["sq","dm","pl","as","tr","err"],"range":[135,290,240,210,210,150]}}}},
  {"data":{"values":[{}]},"mark":{"type":"text","align":"left","baseline":"middle","fontSize":23.5,"font":"Liberation Sans","color":"#111"},
   "encoding":{"x":{"datum":-0.258,"type":"quantitative","axis":null},"y":{"datum":0.15,"type":"quantitative","axis":null},"text":{"value":"Optical Thickness 500nm 3/29/01"}}},
  {"data":{"values":[{}]},"mark":{"type":"text","align":"center","baseline":"middle","fontSize":28,"font":"Liberation Serif","color":"#111"},
   "encoding":{"x":{"datum":6.371,"type":"quantitative","axis":null},"y":{"datum":0.06,"type":"quantitative","axis":null},"text":{"value":"(A)"}}}
 ]},
{"width":1036,"height":164,"data":{"name":"B"},
 "resolve":{"axis":{"x":"independent","y":"independent"}},
 "layer":[
  {"transform":[{"filter":"datum.s==='err'"}],"mark":{"type":"rule","color":"#2f6fbd","strokeWidth":1.4},
   "encoding":{"x":{"field":"t","type":"quantitative","scale":{"domain":[-1.862,3.649],"nice":false,"zero":false},"axis":{"orient":"top","labels":false,"values":[-1,0,1,2,3],"title":null,"minExtent":0,"maxExtent":0}},
    "y":{"field":"lo","type":"quantitative","scale":{"domain":[0.55,0.85],"nice":false,"zero":false},"axis":{"orient":"right","labels":false,"values":[0.6,0.7,0.8],"title":null,"minExtent":0,"maxExtent":0}},
    "y2":{"field":"hi"}}},
  {"mark":{"type":"point","filled":false,"strokeWidth":1.4,"opacity":1},
   "encoding":{"x":{"field":"t","type":"quantitative","axis":{"orient":"bottom","values":[-1,0,1,2,3],"labelExpr":"(datum.value < 0 ? datum.value + 24 : '0' + datum.value) + ':00'","title":null}},
    "y":{"field":"v","type":"quantitative","axis":{"orient":"left","values":[0.6,0.7,0.8],"format":"~g","title":null}},
    "shape":{"field":"s","type":"nominal","legend":null,"scale":{"domain":["sq","dm","pl","as","tr","err"],"range":["square","diamond","M-1,0L1,0M0,-1L0,1","M-1,0L1,0M0,-1L0,1M-0.72,-0.72L0.72,0.72M-0.72,0.72L0.72,-0.72","triangle-up","circle"]}},
    "color":{"field":"s","type":"nominal","legend":null,"scale":{"domain":["sq","dm","pl","as","tr","err"],"range":["#2f6fbd","#e2563f","#2ea043","#1e4f9f","#222222","#2f6fbd"]}},
    "size":{"field":"s","type":"nominal","legend":null,"scale":{"domain":["sq","dm","pl","as","tr","err"],"range":[135,290,240,210,210,150]}}}},
  {"data":{"values":[{}]},"mark":{"type":"text","align":"left","baseline":"middle","fontSize":23.5,"font":"Liberation Sans","color":"#111"},
   "encoding":{"x":{"datum":-1.746,"type":"quantitative","axis":null},"y":{"datum":0.819,"type":"quantitative","axis":null},"text":{"value":"Optical Thickness 500nm 4/9-10/01"}}},
  {"data":{"values":[{}]},"mark":{"type":"text","align":"center","baseline":"middle","fontSize":28,"font":"Liberation Serif","color":"#111"},
   "encoding":{"x":{"datum":3.30,"type":"quantitative","axis":null},"y":{"datum":0.63,"type":"quantitative","axis":null},"text":{"value":"(B)"}}}
 ]},
{"width":1036,"height":164,"data":{"name":"C"},
 "resolve":{"axis":{"x":"independent","y":"independent"}},
 "layer":[
  {"transform":[{"filter":"datum.s==='err'"}],"mark":{"type":"rule","color":"#2f6fbd","strokeWidth":1.4},
   "encoding":{"x":{"field":"t","type":"quantitative","scale":{"domain":[-0.412,6.818],"nice":false,"zero":false},"axis":{"orient":"top","labels":false,"values":[0,1,2,3,4,5,6],"title":null,"minExtent":0,"maxExtent":0}},
    "y":{"field":"lo","type":"quantitative","scale":{"domain":[0,2],"nice":false,"zero":false},"axis":{"orient":"right","labels":false,"values":[0,1,2],"title":null,"minExtent":0,"maxExtent":0}},
    "y2":{"field":"hi"}}},
  {"mark":{"type":"point","filled":false,"strokeWidth":1.4,"opacity":1},
   "encoding":{"x":{"field":"t","type":"quantitative","axis":{"orient":"bottom","values":[0,1,2,3,4,5,6],"labelExpr":"(datum.value < 0 ? datum.value + 24 : '0' + datum.value) + ':00'","title":null}},
    "y":{"field":"v","type":"quantitative","axis":{"orient":"left","values":[0,1,2],"format":"~g","title":null}},
    "shape":{"field":"s","type":"nominal","legend":null,"scale":{"domain":["sq","dm","pl","as","tr","err"],"range":["square","diamond","M-1,0L1,0M0,-1L0,1","M-1,0L1,0M0,-1L0,1M-0.72,-0.72L0.72,0.72M-0.72,0.72L0.72,-0.72","triangle-up","circle"]}},
    "color":{"field":"s","type":"nominal","legend":null,"scale":{"domain":["sq","dm","pl","as","tr","err"],"range":["#2f6fbd","#e2563f","#2ea043","#1e4f9f","#222222","#2f6fbd"]}},
    "size":{"field":"s","type":"nominal","legend":null,"scale":{"domain":["sq","dm","pl","as","tr","err"],"range":[135,290,240,210,210,150]}}}},
  {"data":{"values":[{}]},"mark":{"type":"text","align":"left","baseline":"middle","fontSize":23.5,"font":"Liberation Sans","color":"#111"},
   "encoding":{"x":{"datum":-0.258,"type":"quantitative","axis":null},"y":{"datum":1.70,"type":"quantitative","axis":null},"text":{"value":"Angstrom Exponent 3/29/01"}}},
  {"data":{"values":[{}]},"mark":{"type":"text","align":"center","baseline":"middle","fontSize":28,"font":"Liberation Serif","color":"#111"},
   "encoding":{"x":{"datum":6.371,"type":"quantitative","axis":null},"y":{"datum":1.42,"type":"quantitative","axis":null},"text":{"value":"(C)"}}}
 ]},
{"width":1036,"height":164,"data":{"name":"D"},
 "resolve":{"axis":{"x":"independent","y":"independent"}},
 "layer":[
  {"transform":[{"filter":"datum.s==='err'"}],"mark":{"type":"rule","color":"#2f6fbd","strokeWidth":1.4},
   "encoding":{"x":{"field":"t","type":"quantitative","scale":{"domain":[-1.862,3.649],"nice":false,"zero":false},"axis":{"orient":"top","labels":false,"values":[-1,0,1,2,3],"title":null,"minExtent":0,"maxExtent":0}},
    "y":{"field":"lo","type":"quantitative","scale":{"domain":[0.5,1.3],"nice":false,"zero":false},"axis":{"orient":"right","labels":false,"values":[0.6,0.8,1,1.2],"title":null,"minExtent":0,"maxExtent":0}},
    "y2":{"field":"hi"}}},
  {"mark":{"type":"point","filled":false,"strokeWidth":1.4,"opacity":1},
   "encoding":{"x":{"field":"t","type":"quantitative","axis":{"orient":"bottom","values":[-1,0,1,2,3],"labelExpr":"(datum.value < 0 ? datum.value + 24 : '0' + datum.value) + ':00'","title":"UTC"}},
    "y":{"field":"v","type":"quantitative","axis":{"orient":"left","values":[0.6,0.8,1,1.2],"format":"~g","title":null}},
    "shape":{"field":"s","type":"nominal","legend":null,"scale":{"domain":["sq","dm","pl","as","tr","err"],"range":["square","diamond","M-1,0L1,0M0,-1L0,1","M-1,0L1,0M0,-1L0,1M-0.72,-0.72L0.72,0.72M-0.72,0.72L0.72,-0.72","triangle-up","circle"]}},
    "color":{"field":"s","type":"nominal","legend":null,"scale":{"domain":["sq","dm","pl","as","tr","err"],"range":["#2f6fbd","#e2563f","#2ea043","#1e4f9f","#222222","#2f6fbd"]}},
    "size":{"field":"s","type":"nominal","legend":null,"scale":{"domain":["sq","dm","pl","as","tr","err"],"range":[135,290,240,210,210,150]}}}},
  {"data":{"values":[{}]},"mark":{"type":"text","align":"left","baseline":"middle","fontSize":23.5,"font":"Liberation Sans","color":"#111"},
   "encoding":{"x":{"datum":-1.746,"type":"quantitative","axis":null},"y":{"datum":1.186,"type":"quantitative","axis":null},"text":{"value":"Angstrom Exponent 4/9-10/01"}}},
  {"data":{"values":[{}]},"mark":{"type":"text","align":"center","baseline":"middle","fontSize":28,"font":"Liberation Serif","color":"#111"},
   "encoding":{"x":{"datum":3.309,"type":"quantitative","axis":null},"y":{"datum":0.727,"type":"quantitative","axis":null},"text":{"value":"(D)"}}}
 ]}
]
}
